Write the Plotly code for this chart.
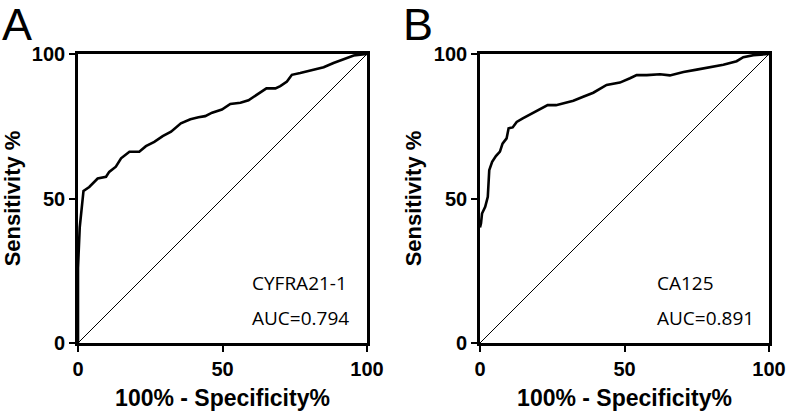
import plotly.graph_objects as go

# Panel A: CYFRA21-1 ROC curve (100% - Specificity%, Sensitivity%)
cyfra_fpr = [0, 0, 0.6, 1.9, 3.9, 5.2, 6.8, 9.7, 10.8, 13.1, 14.9, 17.8, 21.2, 23.5, 26.4,
             29.3, 32.2, 35.6, 38.9, 41.7, 44.0, 46.4, 49.8, 52.7, 56.2, 59.0, 61.9,
             65.2, 68.3, 70.0, 72.3, 74.0, 76.9, 81.5, 85.0, 88.4, 92.5, 95.4, 100]
cyfra_tpr = [0, 26, 40, 52.6, 54.0, 55.3, 56.9, 57.5, 59.2, 61.0, 63.9, 66.2, 66.2, 68.1, 69.6,
             71.6, 73.1, 76.0, 77.4, 78.1, 78.5, 79.7, 80.8, 82.7, 83.1, 84.0, 85.8,
             88.1, 88.1, 88.9, 90.5, 92.8, 93.4, 94.6, 95.4, 96.9, 98.4, 99.5, 100]

# Panel B: CA125 ROC curve
ca125_fpr = [0, 0.35, 0.7, 1.8, 2.7, 3.2, 4.2, 5.5, 6.9, 7.8, 9.2, 9.9, 11.3, 12.7, 14.8,
             17.1, 20.0, 23.4, 26.3, 28.8, 32.3, 35.7, 39.2, 43.8, 48.4, 51.9, 54.2,
             57.7, 62.3, 65.7, 70.4, 75.0, 79.6, 84.2, 88.8, 91.1, 94.6, 100]
ca125_tpr = [40, 41.4, 44.8, 47.1, 50.6, 59.8, 62.7, 64.7, 66.2, 69.0, 70.8, 74.3, 74.6, 76.5, 77.7,
             78.9, 80.4, 82.3, 82.3, 82.9, 83.8, 85.2, 86.6, 89.3, 90.1, 91.6, 92.7,
             92.7, 93.0, 92.6, 93.8, 94.6, 95.4, 96.3, 97.5, 98.9, 99.6, 100]

reference_line = [0, 100]
tick_vals = [0, 50, 100]
tick_text = ["0", "50", "100"]
panel_labels = ["A", "B"]
marker_names = ["CYFRA21-1", "CA125"]
auc_texts = ["AUC=0.794", "AUC=0.891"]

x_title = "100% - Specificity%"
y_title = "Sensitivity %"

fig = go.Figure()

fig.add_trace(go.Scatter(x=cyfra_fpr, y=cyfra_tpr, mode="lines",
                         line=dict(color="black", width=2.6), xaxis="x", yaxis="y",
                         showlegend=False))
fig.add_trace(go.Scatter(x=reference_line, y=reference_line, mode="lines",
                         line=dict(color="black", width=1), xaxis="x", yaxis="y",
                         showlegend=False))
fig.add_trace(go.Scatter(x=ca125_fpr, y=ca125_tpr, mode="lines",
                         line=dict(color="black", width=2.6), xaxis="x2", yaxis="y2",
                         showlegend=False))
fig.add_trace(go.Scatter(x=reference_line, y=reference_line, mode="lines",
                         line=dict(color="black", width=1), xaxis="x2", yaxis="y2",
                         showlegend=False))

W, H = 787, 416
FAM = "Liberation Sans, Arial, sans-serif"

def axis_common(domain, anchor, title, title_size, standoff):
    return dict(
        domain=domain, anchor=anchor, range=[0, 100], automargin=False,
        showline=True, linecolor="black", linewidth=2.6, mirror=True,
        ticks="outside", ticklen=6, tickwidth=2.4, tickcolor="black",
        tickvals=tick_vals, ticktext=tick_text,
        tickfont=dict(family=FAM, size=20, color="black", weight="bold"),
        showgrid=False, zeroline=False, fixedrange=True,
        title=dict(text=title, font=dict(family=FAM, size=title_size, color="black",
                                         weight="bold"),
                   standoff=standoff),
    )

yd = [(416 - 343) / H, (416 - 54) / H]
fig.update_layout(
    width=W, height=H,
    margin=dict(l=0, r=0, t=0, b=0),
    paper_bgcolor="white", plot_bgcolor="white",
    xaxis=axis_common([78 / W, 367 / W], "y", x_title, 23, 12),
    yaxis=axis_common(yd, "x", y_title, 22, 7),
    xaxis2=axis_common([480 / W, 769 / W], "y2", x_title, 23, 12),
    yaxis2=axis_common(yd, "x2", y_title, 22, 7),
)

ann_font = dict(family="Open Sans, sans-serif", size=19, color="black")
anns = []
for i, (xr, yr) in enumerate([("x", "y"), ("x2", "y2")]):
    x_left = 59.5 if i == 0 else 60.5
    anns.append(dict(text=marker_names[i], x=x_left, y=20.8, xref=xr, yref=yr,
                     xanchor="left", yanchor="middle", showarrow=False, font=ann_font))
    anns.append(dict(text=auc_texts[i], x=x_left, y=8.7, xref=xr, yref=yr,
                     xanchor="left", yanchor="middle", showarrow=False, font=ann_font))
for lbl, xp in zip(panel_labels, [0 / W, 401 / W]):
    anns.append(dict(text=lbl, x=xp, y=1.0, xref="paper", yref="paper",
                     xanchor="left", yanchor="top", showarrow=False, yshift=3,
                     font=dict(family=FAM, size=45, color="black")))
fig.update_layout(annotations=anns)

fig.write_html("out.html", config={"displayModeBar": False},
               post_script="document.body.style.margin='0';document.body.style.overflow='hidden';")
